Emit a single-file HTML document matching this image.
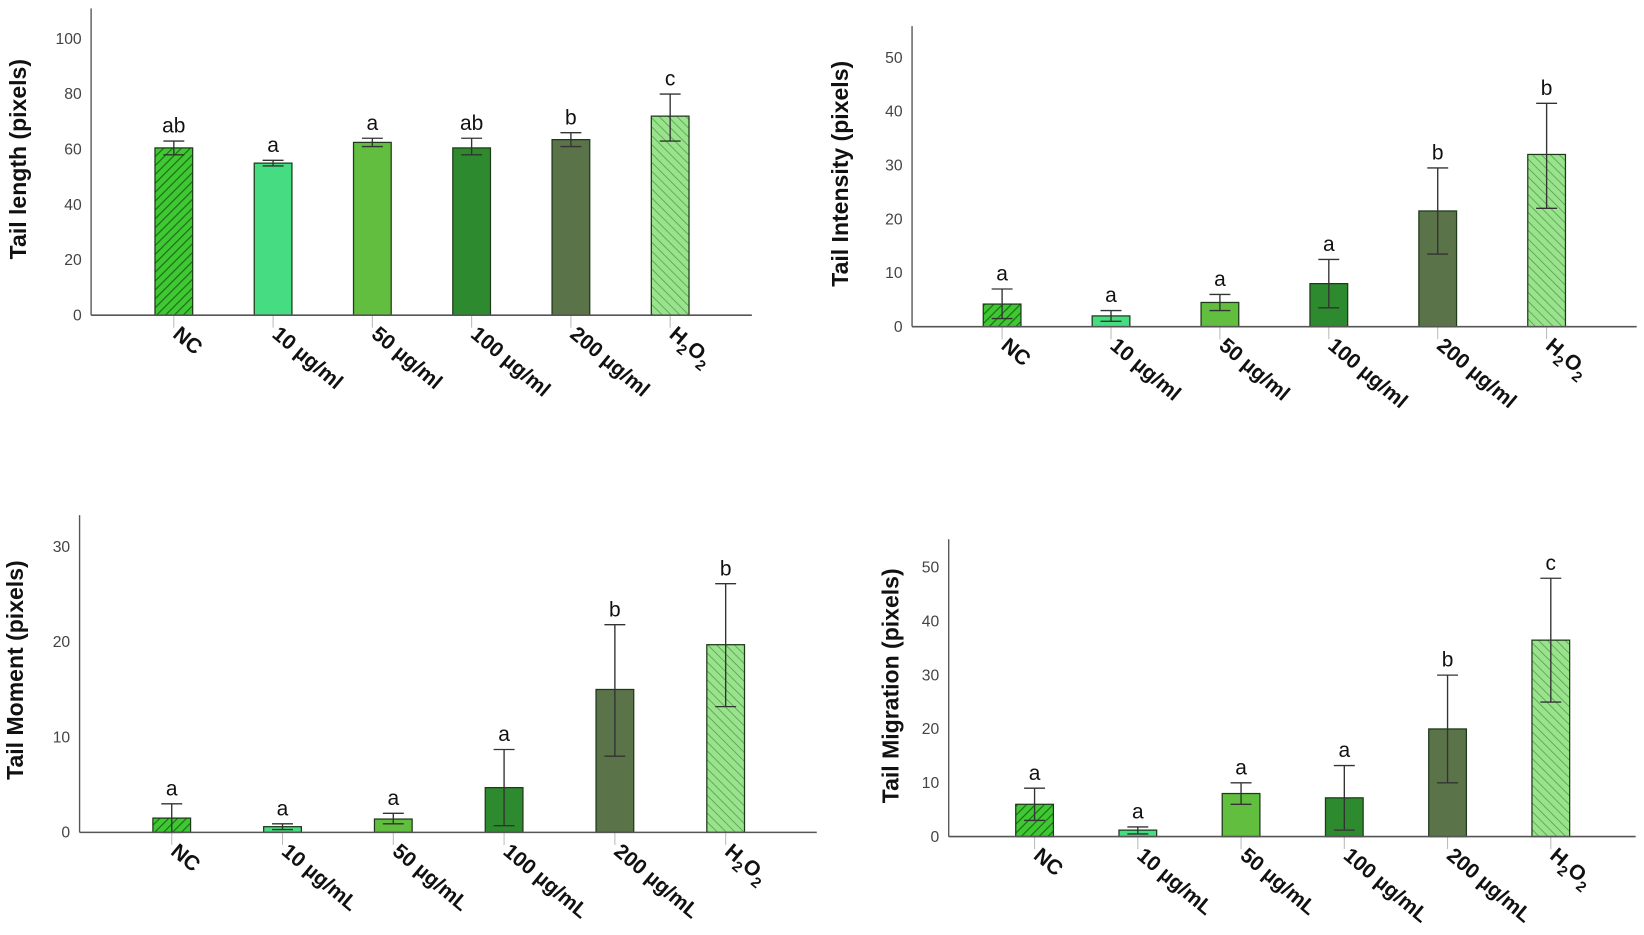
<!DOCTYPE html>
<html><head><meta charset="utf-8"><style>
html,body{margin:0;padding:0;background:#fff;}
svg{display:block;font-family:"Liberation Sans",Arial,sans-serif;}
</style></head><body>
<svg id="fig" width="1644" height="935" viewBox="0 0 1570 893" preserveAspectRatio="none">
<defs>
<pattern id="hatchDark" patternUnits="userSpaceOnUse" width="6" height="6" patternTransform="rotate(45)">
<rect width="6" height="6" fill="#3ec832"/><line x1="0" y1="0" x2="0" y2="6" stroke="#1e6a18" stroke-width="2.2"/></pattern>
<pattern id="hatchLight" patternUnits="userSpaceOnUse" width="6" height="6" patternTransform="rotate(-45)">
<rect width="6" height="6" fill="#9be28e"/><line x1="0" y1="0" x2="0" y2="6" stroke="#4fa845" stroke-width="1.6"/></pattern>
</defs>
</svg>
<script>
const categoriesTop = ["NC","10 µg/ml","50 µg/ml","100 µg/ml","200 µg/ml","H2O2"];
const categoriesBottom = ["NC","10 µg/mL","50 µg/mL","100 µg/mL","200 µg/mL","H2O2"];
const barColors = ["url(#hatchDark)","#46dc82","#62be3e","#2e8a2e","#5b7349","url(#hatchLight)"];

const lengthMeans = [60.5,55,62.5,60.5,63.5,72];
const lengthLow = [58,54,61,58,61,63];
const lengthHigh = [63,56,64,64,66,80];
const lengthLetters = ["ab","a","a","ab","b","c"];
const lengthTicks = [0,20,40,60,80,100];

const intensityMeans = [4.2,2,4.5,8,21.5,32];
const intensityLow = [1.5,1,3,3.5,13.5,22];
const intensityHigh = [7,3,6,12.5,29.5,41.5];
const intensityLetters = ["a","a","a","a","b","b"];
const intensityTicks = [0,10,20,30,40,50];

const momentMeans = [1.5,0.6,1.4,4.7,15,19.7];
const momentLow = [0,0.3,0.9,0.7,8,13.2];
const momentHigh = [3,0.9,2,8.7,21.8,26.1];
const momentLetters = ["a","a","a","a","b","b"];
const momentTicks = [0,10,20,30];

const migrationMeans = [6,1.2,8,7.2,20,36.5];
const migrationLow = [3,0.5,6,1.2,10,25];
const migrationHigh = [9,1.8,10,13.2,30,48];
const migrationLetters = ["a","a","a","a","b","c"];
const migrationTicks = [0,10,20,30,40,50];

const NS="http://www.w3.org/2000/svg";
const svg=document.getElementById('fig');
function mk(tag,attrs,parent){const e=document.createElementNS(NS,tag);for(const k in attrs)e.setAttribute(k,attrs[k]);(parent||svg).appendChild(e);return e;}

function chart(p){
  const g=mk('g',{});
  
  
  const y=v=>p.base-(v/p.maxV)*(p.base-p.maxY);
  const x=i=>p.x0+i*p.step;
  const ya=mk('line',{x1:p.ax,y1:p.top,x2:p.ax,y2:p.base,stroke:'#555','stroke-width':1.3},g);
  
  p.ticks.forEach(t=>{
    const tl=mk('text',{x:p.ax-9,y:y(t)+5,'text-anchor':'end','font-size':15,fill:'#444'},g);
    tl.textContent=t;
    
  });
  const tt=mk('text',{x:0,y:0,'text-anchor':'middle','font-size':22,'font-weight':'bold',fill:'#111',transform:`translate(${p.titleX},${p.titleY}) rotate(-90)`},g);
  tt.textContent=p.title;
  
  p.means.forEach((m,i)=>{
    const cx=x(i),w=36;
    const tk=mk('line',{x1:cx,y1:p.base,x2:cx,y2:p.base+12,stroke:'#bbb','stroke-width':1},g);
    
    const b=mk('rect',{x:cx-w/2,y:y(m),width:w,height:p.base-y(m),fill:barColors[i],stroke:'#1f3a1a','stroke-width':1.2},g);
    
    const eb=mk('path',{d:`M${cx},${y(p.low[i])}V${y(p.high[i])}M${cx-10},${y(p.high[i])}H${cx+10}M${cx-10},${y(p.low[i])}H${cx+10}`,stroke:'#333','stroke-width':1.3,fill:'none'},g);
    
    const lt=mk('text',{x:cx,y:y(p.high[i])-8,'text-anchor':'middle','font-size':20,fill:'#111'},g);
    lt.textContent=p.letters[i];
    
    const lab=mk('text',{x:0,y:0,'font-size':20,'font-weight':'bold',fill:'#111',transform:`translate(${cx-2},${p.base+20}) rotate(40)`},g);
    
    const c=p.cats[i];
    if(c==='H2O2'){lab.innerHTML='H<tspan font-size="14" dy="6">2</tspan><tspan dy="-6">O</tspan><tspan font-size="14" dy="6">2</tspan>';}
    else lab.textContent=c;
  });
  const xa=mk('line',{x1:p.ax,y1:p.base,x2:p.axEnd,y2:p.base,stroke:'#555','stroke-width':1.5},g);
  
}

chart({name:'tail-length-chart',ax:87,top:8,base:301,axEnd:718,maxV:100,maxY:37,x0:166,step:94.8,
  ticks:lengthTicks,means:lengthMeans,low:lengthLow,high:lengthHigh,letters:lengthLetters,cats:categoriesTop,
  title:'Tail length (pixels)',titleX:25,titleY:152});
chart({name:'tail-intensity-chart',ax:871,top:25,base:312,axEnd:1563,maxV:50,maxY:55,x0:957,step:104,
  ticks:intensityTicks,means:intensityMeans,low:intensityLow,high:intensityHigh,letters:intensityLetters,cats:categoriesTop,
  title:'Tail Intensity (pixels)',titleX:810,titleY:166});
chart({name:'tail-moment-chart',ax:76,top:492,base:795,axEnd:780,maxV:30,maxY:522,x0:164,step:105.8,
  ticks:momentTicks,means:momentMeans,low:momentLow,high:momentHigh,letters:momentLetters,cats:categoriesBottom,
  title:'Tail Moment (pixels)',titleX:22,titleY:640});
chart({name:'tail-migration-chart',ax:906,top:515,base:799,axEnd:1562,maxV:50,maxY:542,x0:988,step:98.6,
  ticks:migrationTicks,means:migrationMeans,low:migrationLow,high:migrationHigh,letters:migrationLetters,cats:categoriesBottom,
  title:'Tail Migration (pixels)',titleX:858,titleY:655});
</script>
</body></html>
